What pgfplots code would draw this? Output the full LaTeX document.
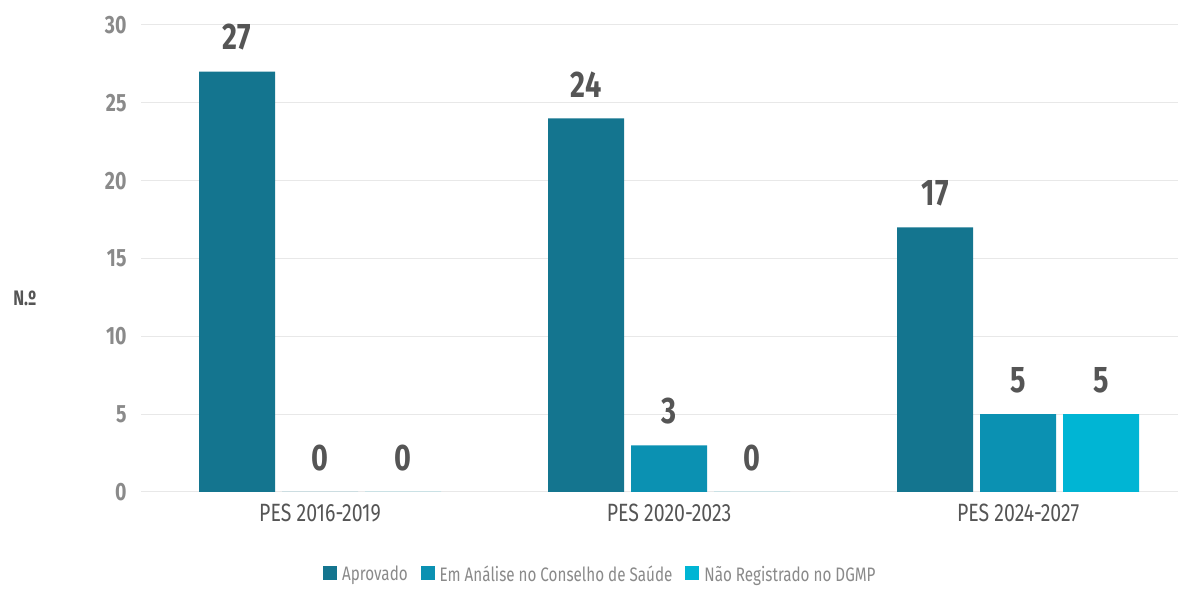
\documentclass[border=0pt]{standalone}
\usepackage{pgfplots}
\pgfplotsset{compat=1.18}
\usepackage{fontspec}
\setmainfont[FakeStretch=0.78]{Fira Sans}
\definecolor{cA}{HTML}{14758F}
\definecolor{cB}{HTML}{0B91B2}
\definecolor{cC}{HTML}{00B5D4}
\definecolor{gridc}{HTML}{E8E8E8}
\definecolor{tickc}{HTML}{8A8A8A}
\definecolor{labc}{HTML}{555555}
\begin{document}
\begin{tikzpicture}[x=1bp,y=1bp]
\path[use as bounding box] (0,0) rectangle (1178,589);
\begin{axis}[
  at={(141bp,97bp)}, anchor=south west,
  scale only axis, width=1037bp, height=467bp,
  ybar=7bp, bar width=76bp,
  xmin=-0.513, xmax=2.458, ymin=0, ymax=30,
  xtick={0,1,2}, xticklabels={PES 2016-2019,PES 2020-2023,PES 2024-2027},
  ytick={0,5,...,30},
  axis line style={draw=none}, tick style={draw=none},
  ymajorgrids, grid style={gridc, line width=1bp},
  /pgf/number format/assume math mode=true,
  yticklabel style={font=\fontsize{25bp}{28bp}\selectfont\bfseries, color=tickc, xshift=-11bp},
  xticklabel style={font=\fontsize{25bp}{28bp}\selectfont, color=labc, yshift=-4bp},
  ylabel={N.º}, ylabel style={rotate=-90, font=\fontsize{21bp}{24bp}\selectfont\bfseries, color=labc, at={(axis description cs:-0.112,0.415)}, anchor=center},
  nodes near coords,
  every node near coord/.append style={font=\fontsize{37bp}{40bp}\selectfont\bfseries, color=labc, inner sep=0pt, yshift=21bp, anchor=south},
  legend columns=3,
  legend style={draw=none, at={(0.443,-0.176)}, anchor=center, font=\fontsize{19.5bp}{22bp}\selectfont, text=tickc, column sep=3bp, inner sep=1bp, /tikz/every even column/.append style={column sep=11bp}},
  legend image code/.code={\fill[#1] (0bp,-6bp) rectangle (14bp,8bp);},
]
\addplot[fill=cA, draw=none] coordinates {(0,27) (1,24) (2,17)};
\addplot[fill=cB, draw=none] coordinates {(0,0) (1,3) (2,5)};
\addplot[fill=cC, draw=none] coordinates {(0,0) (1,0) (2,5)};
\legend{Aprovado, Em Análise no Conselho de Saúde, Não Registrado no DGMP}
\end{axis}
\end{tikzpicture}
\end{document}
